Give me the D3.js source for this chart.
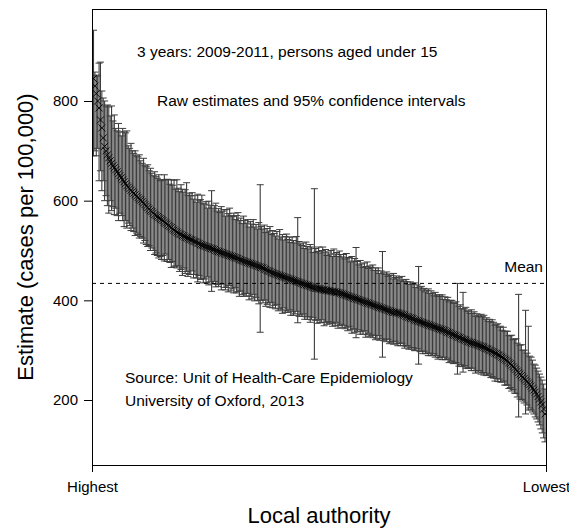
<!DOCTYPE html>
<html>
<head>
<meta charset="utf-8">
<script src="https://d3js.org/d3.v7.min.js"></script>
<style>
body { margin: 0; background: #fff; }
text { font-family: "Liberation Sans", Arial, sans-serif; }
</style>
</head>
<body>
<div id="mainArea"></div>
<script>
// raw estimates, sorted highest -> lowest (cases per 100,000)
var estimate = [
 845, 830, 815, 800, 786, 762, 746, 726, 709, 700,
 692, 686, 680, 675, 670, 666, 662, 658, 654, 650,
 646, 642, 638, 634, 630, 627, 624, 621, 618, 615,
 612, 609, 606, 603, 601, 598, 595, 592, 589, 586,
 583, 580, 578, 575, 572, 570, 568, 566, 564, 562,
 560, 557, 555, 553, 550, 548, 546, 543, 541, 539,
 537, 535, 533, 532, 530, 529, 527, 526, 525, 523,
 522, 521, 519, 518, 517, 515, 514, 512, 511, 510,
 509, 508, 507, 506, 505, 504, 503, 502, 500, 499,
 498, 497, 496, 495, 494, 493, 492, 491, 490, 489,
 488, 487, 486, 485, 484, 482, 481, 480, 479, 478,
 477, 476, 475, 474, 473, 472, 471, 470, 469, 468,
 467, 466, 465, 463, 462, 460, 459, 458, 456, 455,
 454, 453, 452, 451, 450, 449, 448, 447, 446, 445,
 444, 443, 442, 441, 440, 439, 438, 437, 436, 435,
 434, 433, 432, 431, 430, 429, 428, 427, 426, 425,
 424, 424, 423, 423, 422, 421, 421, 420, 420, 419,
 419, 418, 418, 417, 417, 416, 416, 415, 414, 413,
 412, 411, 410, 409, 408, 407, 406, 405, 404, 403,
 402, 401, 400, 399, 398, 397, 396, 395, 394, 393,
 392, 391, 390, 389, 388, 387, 386, 385, 384, 383,
 382, 381, 380, 379, 378, 377, 376, 376, 375, 375,
 374, 373, 372, 371, 370, 368, 367, 366, 365, 364,
 363, 361, 360, 359, 358, 357, 356, 355, 354, 353,
 352, 351, 350, 349, 348, 347, 346, 345, 344, 343,
 342, 341, 340, 339, 337, 336, 335, 334, 332, 331,
 330, 329, 327, 326, 325, 323, 322, 321, 320, 318,
 317, 316, 315, 314, 313, 312, 311, 310, 309, 308,
 307, 306, 304, 303, 302, 300, 299, 297, 296, 294,
 293, 291, 290, 288, 286, 284, 282, 280, 278, 275,
 273, 270, 267, 264, 261, 258, 255, 252, 249, 246,
 243, 240, 237, 234, 231, 228, 224, 220, 216, 212,
 207, 202, 196, 190, 182, 172
];

// upper 95% limits
var upper = [
 942, 858, 852, 850, 876, 878, 820, 806, 800, 790,
 792, 788, 770, 790, 760, 772, 745, 740, 755, 738,
 730, 745, 738, 736, 740, 710, 705, 715, 700, 695,
 700, 690, 688, 692, 680, 675, 685, 670, 668, 672,
 660, 665, 655, 650, 658, 648, 645, 652, 640, 642,
 642, 652, 642, 643, 642, 633, 642, 631, 641, 623,
 642, 625, 618, 632, 623, 617, 622, 636, 611, 615,
 610, 616, 603, 610, 597, 613, 601, 602, 611, 595,
 593, 598, 585, 599, 591, 620, 585, 590, 595, 579,
 584, 576, 588, 579, 582, 569, 582, 574, 585, 570,
 568, 575, 562, 570, 576, 560, 565, 554, 569, 560,
 555, 562, 547, 558, 553, 562, 547, 552, 543, 556,
 632, 548, 543, 551, 536, 544, 539, 548, 532, 540,
 534, 529, 538, 523, 542, 527, 532, 521, 528, 533,
 522, 527, 516, 527, 520, 515, 528, 566, 518, 513,
 510, 515, 504, 517, 508, 503, 512, 507, 496, 624,
 504, 498, 507, 495, 500, 507, 497, 502, 490, 497,
 493, 500, 488, 503, 493, 496, 488, 499, 492, 487,
 492, 483, 494, 485, 486, 477, 488, 479, 484, 506,
 478, 471, 480, 473, 466, 475, 468, 477, 464, 469,
 466, 471, 460, 465, 460, 465, 454, 459, 498, 455,
 452, 457, 448, 453, 450, 443, 454, 446, 449, 443,
 446, 439, 448, 441, 438, 442, 437, 432, 437, 432,
 433, 435, 426, 431, 468, 425, 428, 421, 424, 417,
 420, 423, 414, 419, 414, 409, 416, 411, 408, 411,
 408, 411, 402, 407, 401, 406, 397, 400, 400, 395,
 394, 397, 434, 388, 391, 383, 416, 383, 386, 378,
 379, 374, 381, 374, 377, 368, 373, 370, 367, 372,
 367, 370, 362, 365, 358, 362, 357, 361, 356, 350,
 351, 353, 346, 348, 340, 346, 338, 338, 338, 329,
 329, 330, 321, 322, 323, 314, 412, 310, 311, 300,
 300, 380, 294, 348, 288, 286, 280, 272, 270, 264,
 258, 252, 246, 240, 232, 222
];

// lower 95% limits
var lower = [
 690, 700, 690, 705, 640, 660, 620, 640, 600, 610,
 590, 575, 600, 580, 588, 572, 585, 570, 560, 575,
 570, 560, 548, 560, 545, 555, 550, 540, 545, 538,
 530, 535, 532, 525, 528, 525, 515, 520, 512, 508,
 510, 500, 505, 500, 492, 495, 490, 485, 488, 482,
 490, 479, 493, 478, 482, 476, 466, 478, 467, 469,
 465, 469, 458, 462, 450, 465, 454, 458, 448, 452,
 452, 459, 445, 452, 445, 437, 450, 442, 443, 435,
 443, 436, 447, 431, 437, 418, 433, 438, 427, 432,
 428, 433, 421, 433, 426, 421, 426, 417, 430, 419,
 423, 415, 426, 415, 418, 408, 419, 412, 408, 414,
 409, 414, 401, 408, 403, 412, 399, 406, 400, 393,
 336, 400, 395, 401, 388, 392, 395, 386, 396, 385,
 390, 383, 392, 379, 384, 381, 374, 385, 376, 379,
 376, 381, 370, 377, 370, 373, 378, 355, 368, 371,
 368, 373, 362, 367, 362, 367, 356, 361, 366, 282,
 360, 354, 361, 355, 356, 361, 349, 356, 352, 357,
 353, 356, 348, 353, 349, 356, 344, 349, 352, 345,
 350, 343, 346, 339, 348, 341, 334, 343, 336, 325,
 338, 341, 332, 337, 332, 339, 326, 331, 334, 327,
 330, 325, 330, 321, 324, 329, 320, 323, 286, 319,
 322, 317, 322, 313, 316, 317, 312, 318, 313, 309,
 314, 309, 314, 309, 304, 308, 309, 302, 305, 302,
 305, 299, 300, 303, 272, 297, 298, 293, 298, 293,
 294, 289, 294, 289, 290, 293, 286, 289, 282, 285,
 286, 281, 286, 281, 281, 284, 275, 278, 278, 273,
 274, 275, 252, 268, 271, 267, 256, 269, 264, 264,
 263, 264, 259, 264, 259, 254, 259, 256, 259, 252,
 255, 250, 254, 249, 250, 252, 245, 247, 244, 238,
 243, 237, 242, 236, 236, 238, 230, 230, 230, 223,
 225, 218, 221, 214, 213, 206, 166, 202, 201, 198,
 194, 172, 190, 180, 184, 180, 176, 172, 166, 162,
 156, 150, 142, 134, 124, 116
];

var meanValue = 434;               // dashed reference line
var yTicks = [200, 400, 600, 800];
var xTickLabels = ["Highest", "Lowest"];

function mainInit()
{
	var width = 569, height = 529;
	var left = 92, right = 546, top = 9, bottom = 465; // plot box

	var vis = d3.select("#mainArea")
		.append("svg")
		.attr("width", width)
		.attr("height", height);

	var n = estimate.length;
	// first/last bar sit just inside the box
	var x = d3.scaleLinear().domain([0, n - 1]).range([93.5, 545]);
	var y = d3.scaleLinear().domain([69.6, 984.6]).range([bottom, top]);

	vis.append("clipPath").attr("id", "plotclip")
		.append("rect")
		.attr("x", left).attr("y", top)
		.attr("width", right - left).attr("height", bottom - top);

	var plot = vis.append("g").attr("clip-path", "url(#plotclip)");
	var idx = d3.range(n);
	var barCol = "#3c3c3c", cap = 3.5;

	// error bars
	plot.selectAll("line.bar")
		.data(idx)
		.enter()
		.append("line")
		.attr("class", "bar")
		.attr("x1", function(i) { return x(i); })
		.attr("x2", function(i) { return x(i); })
		.attr("y1", function(i) { return y(upper[i]); })
		.attr("y2", function(i) { return y(lower[i]); })
		.style("stroke", barCol)
		.style("stroke-width", 1.1);

	plot.selectAll("line.capU")
		.data(idx)
		.enter()
		.append("line")
		.attr("x1", function(i) { return x(i) - cap; })
		.attr("x2", function(i) { return x(i) + cap; })
		.attr("y1", function(i) { return y(upper[i]); })
		.attr("y2", function(i) { return y(upper[i]); })
		.style("stroke", barCol)
		.style("stroke-width", 1);

	plot.selectAll("line.capL")
		.data(idx)
		.enter()
		.append("line")
		.attr("x1", function(i) { return x(i) - cap; })
		.attr("x2", function(i) { return x(i) + cap; })
		.attr("y1", function(i) { return y(lower[i]); })
		.attr("y2", function(i) { return y(lower[i]); })
		.style("stroke", barCol)
		.style("stroke-width", 1);

	// estimate markers (x crosses)
	var s = 3.5;
	plot.selectAll("path.pt")
		.data(idx)
		.enter()
		.append("path")
		.attr("d", function(i) {
			var cx = x(i), cy = y(estimate[i]);
			return "M" + (cx - s) + "," + (cy - s) + "L" + (cx + s) + "," + (cy + s) +
				"M" + (cx - s) + "," + (cy + s) + "L" + (cx + s) + "," + (cy - s);
		})
		.style("stroke", "#000")
		.style("stroke-width", 0.9)
		.style("fill", "none");

	// mean line
	vis.append("line")
		.attr("x1", left).attr("x2", right)
		.attr("y1", y(meanValue)).attr("y2", y(meanValue))
		.style("stroke", "#000")
		.style("stroke-dasharray", "4,4");

	vis.append("text")
		.attr("x", 543).attr("y", y(meanValue) - 11)
		.attr("text-anchor", "end")
		.style("font-size", "15.5px")
		.text("Mean");

	// box
	vis.append("rect")
		.attr("x", left).attr("y", top)
		.attr("width", right - left).attr("height", bottom - top)
		.style("fill", "none")
		.style("stroke", "#000")
		.style("stroke-width", 1)
		.style("shape-rendering", "crispEdges");

	// axes
	var yAxis = d3.axisLeft(y).tickValues(yTicks).tickSize(8).tickPadding(6);
	var gy = vis.append("g").attr("transform", "translate(" + left + ",0)").call(yAxis);
	gy.select(".domain").remove();
	gy.selectAll("text").style("font-size", "15px").style("font-family", "'Liberation Sans', Arial, sans-serif");

	var xTick = d3.scaleLinear().domain([0, n - 1]).range([left, right]);
	var xAxis = d3.axisBottom(xTick).tickValues([0, n - 1]).tickSize(7).tickPadding(9)
		.tickFormat(function(d, i) { return xTickLabels[i]; });
	var gx = vis.append("g").attr("transform", "translate(0," + bottom + ")").call(xAxis);
	gx.select(".domain").remove();
	gx.selectAll("text").style("font-size", "15px").style("font-family", "'Liberation Sans', Arial, sans-serif");

	// axis titles
	vis.append("text")
		.attr("x", (left + right) / 2).attr("y", 523)
		.attr("text-anchor", "middle")
		.style("font-size", "22px")
		.text("Local authority");

	vis.append("text")
		.attr("transform", "translate(33," + (top + bottom) / 2 + ") rotate(-90)")
		.attr("text-anchor", "middle")
		.style("font-size", "22px")
		.text("Estimate (cases per 100,000)");

	// annotations
	var notes = [
		{t: "3 years: 2009-2011, persons aged under 15", x: 137, y: 57},
		{t: "Raw estimates and 95% confidence intervals", x: 157, y: 106},
		{t: "Source: Unit of Health-Care Epidemiology", x: 125, y: 383},
		{t: "University of Oxford, 2013", x: 125, y: 406}
	];
	vis.selectAll("text.note")
		.data(notes)
		.enter()
		.append("text")
		.attr("class", "note")
		.attr("x", function(d) { return d.x; })
		.attr("y", function(d) { return d.y; })
		.style("font-size", "15.5px")
		.text(function(d) { return d.t; });
}

window.onload = mainInit;
</script>
</body>
</html>
